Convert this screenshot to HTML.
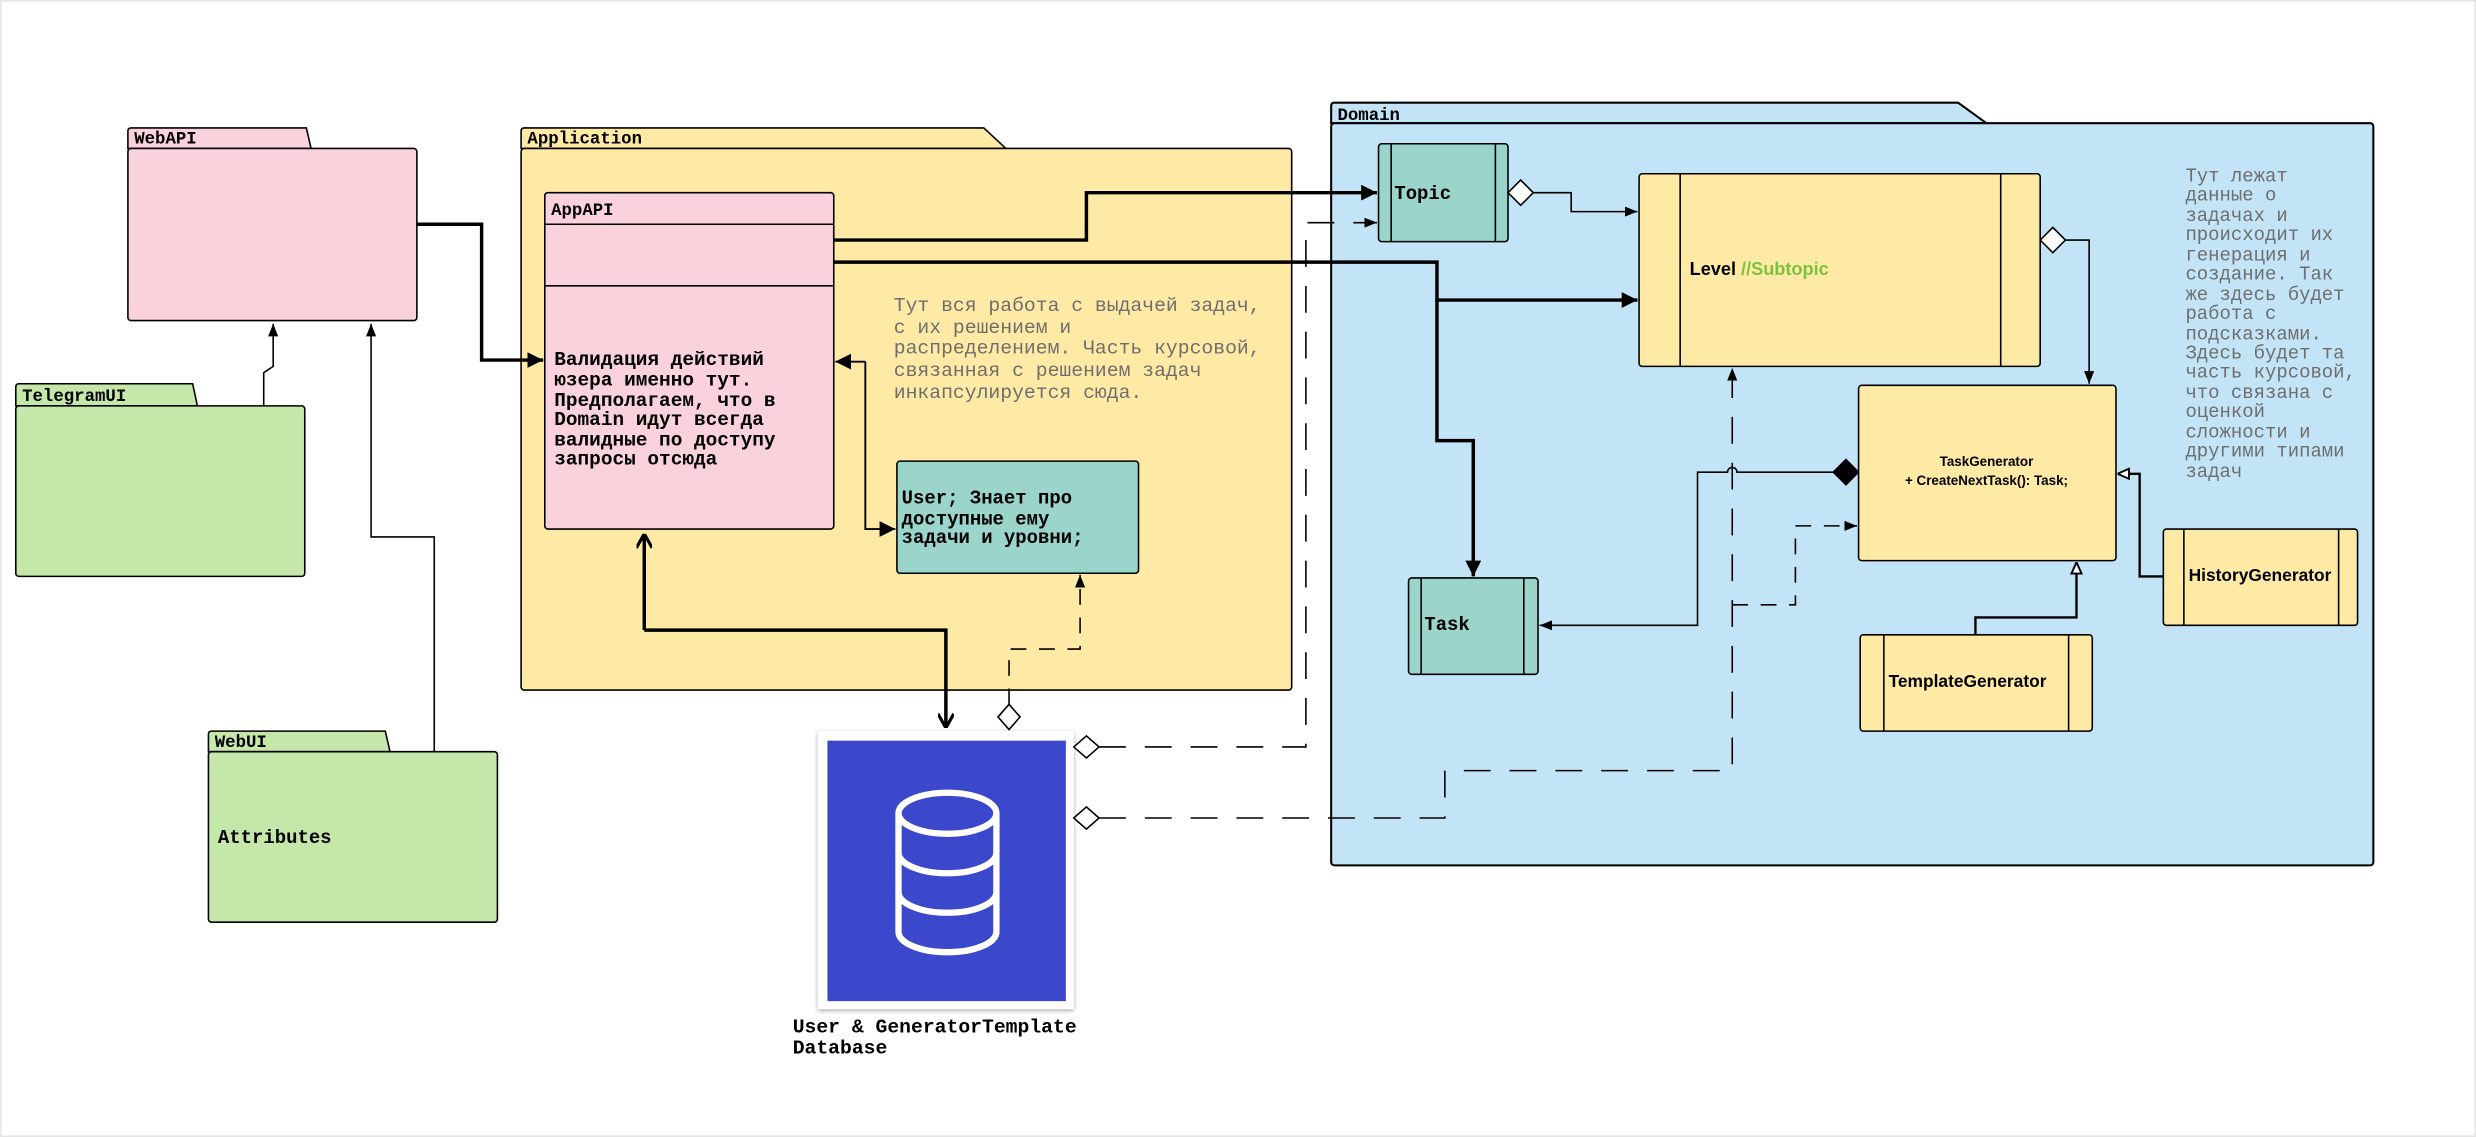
<!DOCTYPE html>
<html><head><meta charset="utf-8"><style>
html,body{margin:0;padding:0;background:#fff;}
svg{display:block;}
.m{font-family:"Liberation Mono","DejaVu Sans Mono",monospace;}
.s{font-family:"Liberation Sans","DejaVu Sans",sans-serif;}
</style></head><body>
<svg width="2476" height="1137" viewBox="0 0 1568 720" xmlns="http://www.w3.org/2000/svg">
<defs>
<marker id="a" viewBox="0 0 10 10" refX="10" refY="5" markerWidth="8" markerHeight="8" markerUnits="userSpaceOnUse" orient="auto"><path d="M0,1 L10,5 L0,9 z" fill="#000"/></marker>
<marker id="at" viewBox="0 0 10 10" refX="10" refY="5" markerWidth="10" markerHeight="10" markerUnits="userSpaceOnUse" orient="auto"><path d="M0,0 L10,5 L0,10 z" fill="#000"/></marker>
<marker id="ao" viewBox="0 0 10 10" refX="10" refY="5" markerWidth="10" markerHeight="10" markerUnits="userSpaceOnUse" orient="auto"><path d="M1,0 L10,5 L1,10" fill="none" stroke="#000" stroke-width="2"/></marker>
<marker id="ah" viewBox="0 0 10 10" refX="10" refY="5" markerWidth="8" markerHeight="8" markerUnits="userSpaceOnUse" orient="auto"><path d="M1,1 L10,5 L1,9 z" fill="#fff" stroke="#000" stroke-width="1.5"/></marker>
<filter id="sh" x="-10%" y="-10%" width="120%" height="120%"><feDropShadow dx="0" dy="1" stdDeviation="1.5" flood-opacity="0.35"/></filter>
</defs>
<rect x="0.5" y="0.5" width="1567" height="719" fill="#fff" stroke="#e6e6e6"/>

<!-- WebAPI -->
<path d="M81,94 L81,83 Q81,81 83,81 L194,81 L197,94 Z" fill="#f9d2dc" stroke="#000" stroke-width="1"/>
<rect x="81" y="94" width="183" height="109" rx="2" fill="#f9d2dc" stroke="#000"/>
<text x="85" y="91" class="m" font-size="11" font-weight="bold">WebAPI</text>
<!-- TelegramUI -->
<path d="M10,257 L10,245 Q10,243 12,243 L122,243 L125,257 Z" fill="#c6e7aa" stroke="#000"/>
<rect x="10" y="257" width="183" height="108" rx="2" fill="#c6e7aa" stroke="#000"/>
<text x="14" y="254" class="m" font-size="11" font-weight="bold">TelegramUI</text>
<!-- WebUI -->
<path d="M132,476 L132,465 Q132,463 134,463 L244,463 L247,476 Z" fill="#c6e7aa" stroke="#000"/>
<rect x="132" y="476" width="183" height="108" rx="2" fill="#c6e7aa" stroke="#000"/>
<text x="136" y="473" class="m" font-size="11" font-weight="bold">WebUI</text>
<text x="138" y="534" class="m" font-size="12" font-weight="bold">Attributes</text>

<!-- Application -->
<path d="M330,94 L330,83 Q330,81 332,81 L623,81 L637,94 Z" fill="#ffeaa5" stroke="#000"/>
<rect x="330" y="94" width="488" height="343" rx="2" fill="#ffeaa5" stroke="#000"/>
<text x="334" y="91" class="m" font-size="11" font-weight="bold">Application</text>
<!-- AppAPI -->
<rect x="345" y="122" width="183" height="213" rx="2" fill="#f9d2dc" stroke="#000"/>
<line x1="345" y1="142" x2="528" y2="142" stroke="#000"/>
<line x1="345" y1="181" x2="528" y2="181" stroke="#000"/>
<text x="349" y="136" class="m" font-size="11" font-weight="bold">AppAPI</text>
<g class="m" font-size="12.3" font-weight="bold">
<text x="351" y="231">Валидация действий</text>
<text x="351" y="244">юзера именно тут.</text>
<text x="351" y="257">Предполагаем, что в</text>
<text x="351" y="269">Domain идут всегда</text>
<text x="351" y="282">валидные по доступу</text>
<text x="351" y="294">запросы отсюда</text>
</g>
<g class="m" font-size="12.5" fill="#6e6e6e">
<text x="566" y="197">Тут вся работа с выдачей задач,</text>
<text x="566" y="211">с их решением и</text>
<text x="566" y="224">распределением. Часть курсовой,</text>
<text x="566" y="238">связанная с решением задач</text>
<text x="566" y="252">инкапсулируется сюда.</text>
</g>
<!-- User -->
<rect x="568" y="292" width="153" height="71" rx="2" fill="#9ad4ca" stroke="#000"/>
<g class="m" font-size="12" font-weight="bold">
<text x="571" y="319">User; Знает про</text>
<text x="571" y="332">доступные ему</text>
<text x="571" y="344">задачи и уровни;</text>
</g>

<!-- Domain -->
<path d="M843,78 L843,67 Q843,65 845,65 L1240,65 L1258,78 Z" fill="#c2e4f6" stroke="#000" stroke-width="1.3"/>
<rect x="843" y="78" width="660" height="470" rx="2" fill="#c2e4f6" stroke="#000" stroke-width="1.3"/>
<text x="847" y="76" class="m" font-size="11" font-weight="bold">Domain</text>
<g class="m" font-size="12" fill="#6e6e6e">
<text x="1384" y="115">Тут лежат</text>
<text x="1384" y="127">данные о</text>
<text x="1384" y="140">задачах и</text>
<text x="1384" y="152">происходит их</text>
<text x="1384" y="165">генерация и</text>
<text x="1384" y="177">создание. Так</text>
<text x="1384" y="190">же здесь будет</text>
<text x="1384" y="202">работа с</text>
<text x="1384" y="215">подсказками.</text>
<text x="1384" y="227">Здесь будет та</text>
<text x="1384" y="239">часть курсовой,</text>
<text x="1384" y="252">что связана с</text>
<text x="1384" y="264">оценкой</text>
<text x="1384" y="277">сложности и</text>
<text x="1384" y="289">другими типами</text>
<text x="1384" y="302">задач</text>
</g>
<!-- Topic -->
<rect x="873" y="91" width="82" height="62" rx="2" fill="#9ad4ca" stroke="#000"/>
<line x1="881" y1="91" x2="881" y2="153" stroke="#000"/><line x1="947" y1="91" x2="947" y2="153" stroke="#000"/>
<text x="883" y="126" class="m" font-size="12" font-weight="bold">Topic</text>
<!-- Level -->
<rect x="1038" y="110" width="254" height="122" rx="2" fill="#ffeaa5" stroke="#000"/>
<line x1="1064" y1="110" x2="1064" y2="232" stroke="#000"/><line x1="1267" y1="110" x2="1267" y2="232" stroke="#000"/>
<text x="1070" y="174" class="s" font-size="11.5" font-weight="bold">Level <tspan fill="#7cc242">//Subtopic</tspan></text>
<!-- TaskGenerator -->
<rect x="1177" y="244" width="163" height="111" rx="2" fill="#ffeaa5" stroke="#000"/>
<text x="1258" y="295" class="s" font-size="8.5" font-weight="bold" text-anchor="middle">TaskGenerator</text>
<text x="1258" y="307" class="s" font-size="8.5" font-weight="bold" text-anchor="middle">+ CreateNextTask(): Task;</text>
<!-- Task -->
<rect x="892" y="366" width="82" height="61" rx="2" fill="#9ad4ca" stroke="#000"/>
<line x1="900" y1="366" x2="900" y2="427" stroke="#000"/><line x1="965" y1="366" x2="965" y2="427" stroke="#000"/>
<text x="902" y="399" class="m" font-size="12" font-weight="bold">Task</text>
<!-- HistoryGenerator -->
<rect x="1370" y="335" width="123" height="61" rx="2" fill="#ffeaa5" stroke="#000"/>
<line x1="1383" y1="335" x2="1383" y2="396" stroke="#000"/><line x1="1481" y1="335" x2="1481" y2="396" stroke="#000"/>
<text x="1386" y="368" class="s" font-size="11" font-weight="bold">HistoryGenerator</text>
<!-- TemplateGenerator -->
<rect x="1178" y="402" width="147" height="61" rx="2" fill="#ffeaa5" stroke="#000"/>
<line x1="1193" y1="402" x2="1193" y2="463" stroke="#000"/><line x1="1310" y1="402" x2="1310" y2="463" stroke="#000"/>
<text x="1196" y="435" class="s" font-size="11" font-weight="bold">TemplateGenerator</text>

<!-- Database -->
<rect x="518" y="463" width="162" height="176" fill="#fff" filter="url(#sh)"/>
<rect x="524" y="469" width="151" height="165" fill="#3b48cc"/>
<g fill="none" stroke="#fff" stroke-width="4">
<ellipse cx="600" cy="515" rx="31" ry="13"/>
<path d="M569,515 L569,590 A31,13 0 0 0 631,590 L631,515"/>
<path d="M569,540 A31,13 0 0 0 631,540"/>
<path d="M569,565 A31,13 0 0 0 631,565"/>
</g>
<g class="m" font-size="12.5" font-weight="bold">
<text x="502" y="654">User &amp; GeneratorTemplate</text>
<text x="502" y="667">Database</text>
</g>

<!-- Connectors -->
<g fill="none" stroke="#000">
<path d="M264,142 L305,142 L305,228 L344,228" stroke-width="2.2" marker-end="url(#at)"/>
<path d="M167,257 L167,236 L173,232 L173,205" stroke-width="1" marker-end="url(#a)"/>
<path d="M275,476 L275,340 L235,340 L235,205" stroke-width="1" marker-end="url(#a)"/>
<path d="M528,152 L688,152 L688,122 L872,122" stroke-width="2.2" marker-end="url(#at)"/>
<path d="M528,166 L910,166 L910,190 L1037,190" stroke-width="2.2" marker-end="url(#at)"/>
<path d="M910,190 L910,279 L933,279 L933,365" stroke-width="2.2" marker-end="url(#at)"/>
<path d="M548,229 L548,335 L567,335" stroke-width="1.2" marker-end="url(#at)"/>
<path d="M548,229 L529,229" stroke-width="1.2" marker-end="url(#at)"/>
<path d="M408,399 L408,338" stroke-width="2.2" marker-end="url(#ao)"/>
<path d="M408,399 L599,399 L599,461" stroke-width="2.2" marker-end="url(#ao)"/>
<path d="M639,446 L639,411 L684,411 L684,364" stroke-width="1" stroke-dasharray="10,8" marker-end="url(#a)"/>
<path d="M696,473 L827,473 L827,141 L872,141" stroke-width="1" stroke-dasharray="17,12" marker-end="url(#a)"/>
<path d="M696,518 L915,518 L915,488 L1097,488 L1097,233" stroke-width="1" stroke-dasharray="17,12" marker-end="url(#a)"/>
<path d="M1169,299 L1100,299 A3,3 0 0 0 1094,299 L1075,299 L1075,396 L975,396" stroke-width="1" marker-end="url(#a)"/>
<path d="M1097,383 L1137,383 L1137,333 L1176,333" stroke-width="1" stroke-dasharray="10,8" marker-end="url(#a)"/>
<path d="M1308,152 L1323,152 L1323,243" stroke-width="1" marker-end="url(#a)"/>
<path d="M971,122 L995,122 L995,134 L1037,134" stroke-width="1" marker-end="url(#a)"/>
<path d="M1370,365 L1355,365 L1355,300 L1341,300" stroke-width="1.5" marker-end="url(#ah)"/>
<path d="M1251,402 L1251,391 L1315,391 L1315,356" stroke-width="1.5" marker-end="url(#ah)"/>
</g>
<!-- diamonds -->
<g stroke="#000" stroke-width="1">
<path d="M639,446 L646,454 L639,462 L632,454 Z" fill="#fff"/>
<path d="M680,473 L688,466 L696,473 L688,480 Z" fill="#fff"/>
<path d="M680,518 L688,511 L696,518 L688,525 Z" fill="#fff"/>
<path d="M955,122 L963,114 L971,122 L963,130 Z" fill="#fff"/>
<path d="M1292,152 L1300,144 L1308,152 L1300,160 Z" fill="#fff"/>
<path d="M1177,299 L1169,291 L1161,299 L1169,307 Z" fill="#000"/>
</g>
</svg>
</body></html>
